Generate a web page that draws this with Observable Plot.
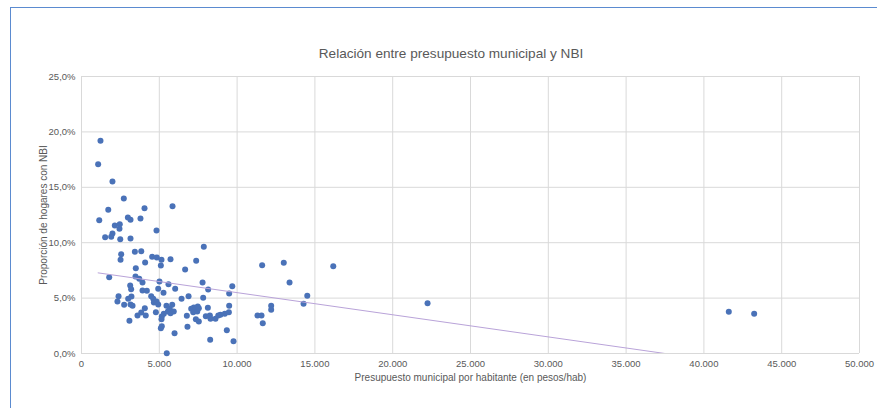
<!DOCTYPE html>
<html>
<head>
<meta charset="utf-8">
<script src="https://cdn.jsdelivr.net/npm/d3@7"></script>
<script src="https://cdn.jsdelivr.net/npm/@observablehq/plot@0.6"></script>
<style>
  html, body { margin: 0; padding: 0; background: #fff; }
  #wrap { position: relative; width: 877px; height: 408px; overflow: hidden; font-family: "Liberation Sans", Arial, sans-serif; }
  #frame { position: absolute; left: 10px; top: 7px; width: 880px; height: 420px; border-top: 1px solid #5b8bd0; border-left: 1px solid #5b8bd0; box-sizing: border-box; }
  #title { position: absolute; left: 251px; width: 400px; top: 46px; text-align: center; font-size: 13.6px; color: #595959; }
  #chart { position: absolute; left: 0; top: 0; }
</style>
</head>
<body>
<div id="wrap">
  <div id="frame"></div>
  <div id="chart"></div>
  <div id="title">Relación entre presupuesto municipal y NBI</div>
</div>
<script>
// Presupuesto municipal por habitante (pesos/hab)
const presupuesto = [
  1220, 1070, 1990, 2720, 4050, 5850, 1720, 1140, 2980, 3150,
  3790, 2140, 2460, 2440, 1990, 1520, 1910, 2490, 3150, 4820,
  2550, 2510, 3430, 3840, 3490, 4090, 4540, 4840, 5140, 5100,
  5720, 7860, 7370, 6660, 1780, 3470, 3710, 3920, 5010, 5590,
  3130, 3190, 3920, 4200, 4930, 5270, 6020, 7780, 8140, 9690,
  9490, 2380, 2310, 3210, 3000, 3150, 2740, 3280, 4480, 4610,
  4650, 4820, 4930, 6430, 6880, 7820, 9490, 4070, 3840, 3600,
  4130, 4780, 5160, 5140, 5290, 5460, 5550, 5670, 5830, 5930,
  5720, 3080, 5100, 5160, 5980, 6810, 7050, 7220, 7330, 7470,
  7180, 7440, 7540, 6770, 7350, 7540, 8120, 7990, 8250, 8290,
  8610, 8790, 8930, 9210, 9470, 9340, 8270, 9770, 5480, 11310,
  11610, 13000, 16180, 13370, 14510, 14270, 12190, 12190, 11570, 11650,
  22240, 41600, 43230
];
// Proporción de hogares con NBI (%)
const nbi = [
  19.20, 17.08, 15.52, 13.99, 13.11, 13.29, 12.97, 12.03, 12.27, 12.07,
  12.18, 11.55, 11.67, 11.25, 10.83, 10.50, 10.53, 10.32, 10.38, 11.10,
  8.96, 8.46, 9.18, 9.23, 7.70, 8.21, 8.73, 8.66, 8.46, 7.94,
  8.51, 9.63, 8.37, 7.58, 6.89, 6.95, 6.74, 6.41, 6.50, 6.25,
  6.14, 5.80, 5.69, 5.66, 5.84, 5.48, 5.84, 6.41, 5.78, 6.07,
  5.42, 5.17, 4.69, 5.14, 4.94, 4.42, 4.40, 4.31, 5.17, 4.94,
  4.60, 4.69, 4.42, 4.94, 5.17, 5.03, 4.31, 4.09, 3.70, 3.43,
  3.43, 3.73, 3.34, 3.10, 3.58, 4.31, 3.79, 4.06, 4.40, 3.79,
  3.64, 2.95, 2.28, 2.46, 1.83, 2.41, 4.03, 4.15, 4.00, 4.24,
  3.73, 3.79, 4.09, 3.40, 3.10, 2.89, 4.12, 3.37, 3.43, 3.13,
  3.13, 3.43, 3.49, 3.58, 3.73, 2.10, 1.24, 1.11, 0.03, 3.43,
  7.97, 8.19, 7.88, 6.41, 5.21, 4.49, 4.31, 3.94, 3.43, 2.73,
  4.54, 3.76, 3.58
];
const xTicks = [0, 5000, 10000, 15000, 20000, 25000, 30000, 35000, 40000, 45000, 50000];
const yTicks = [0, 5, 10, 15, 20, 25];

const data = presupuesto.map((p, i) => ({ p, n: nbi[i] }));
const fmtX = d => d3.format(",")(d).replace(/,/g, ".");
const fmtY = d => d.toFixed(1).replace(".", ",") + "%";

const chart = Plot.plot({
  width: 877,
  height: 408,
  marginLeft: 81,
  marginRight: 18,
  marginTop: 76,
  marginBottom: 55,
  style: { fontFamily: "Liberation Sans, Arial, sans-serif", fontSize: "9.5px", color: "#595959", background: "transparent" },
  x: { domain: [0, 50000] },
  y: { domain: [0, 25] },
  marks: [
    Plot.gridX(xTicks, { stroke: "#d9d9d9", strokeOpacity: 1 }),
    Plot.gridY(yTicks, { stroke: "#d9d9d9", strokeOpacity: 1 }),
    Plot.axisX(xTicks, { tickSize: 0, tickPadding: 7, tickFormat: fmtX, fill: "#595959", fontSize: 9.5, label: null }),
    Plot.axisX({ ticks: [], tickSize: 0, fontSize: 10, fill: "#595959",
      label: "Presupuesto municipal por habitante (en pesos/hab)", labelAnchor: "center", labelArrow: "none", labelOffset: 27 }),
    Plot.axisY(yTicks, { tickSize: 0, tickPadding: 6, tickFormat: fmtY, fill: "#595959", fontSize: 9.5, label: null }),
    Plot.axisY({ ticks: [], tickSize: 0, fontSize: 10, fill: "#595959",
      label: "Proporción de hogares con NBI", labelAnchor: "center", labelArrow: "none", labelOffset: 42 }),
    Plot.dot(data, { x: "p", y: "n", r: 3, fill: "#4a72b8", stroke: "none" }),
    Plot.linearRegressionY(data, { x: "p", y: "n", stroke: "#b9a3d9", strokeWidth: 1, ci: 0, clip: true })
  ]
});
document.getElementById("chart").appendChild(chart);
</script>
</body>
</html>
